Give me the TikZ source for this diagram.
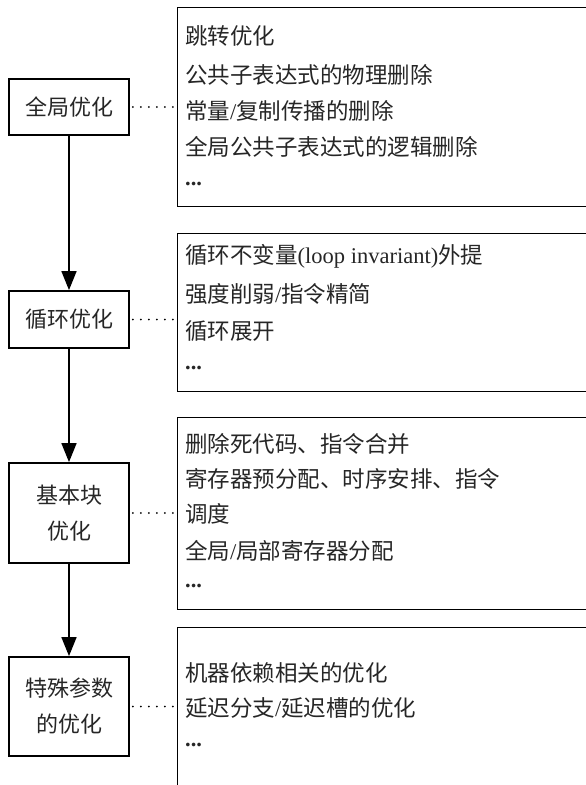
\documentclass[tikz,border=0pt]{standalone}
\usepackage{fontspec}
\setmainfont{Noto Sans CJK SC}
\newfontfamily\lat{Liberation Serif}
\usetikzlibrary{arrows.meta}
\begin{document}
\begin{tikzpicture}[x=1pt,y=-1pt,
  lbox/.style={draw, line width=1.8pt, minimum width=120pt, inner sep=0pt, align=center, font=\fontsize{22}{36}\selectfont, text=black!85},
  rbox/.style={draw, line width=1.4pt, anchor=north west, inner sep=0pt, minimum width=413pt},
  item/.style={anchor=base west, inner sep=0pt, font=\fontsize{22.5}{26}\selectfont, text=black!85},
  dotline/.style={line width=2pt, dash pattern=on 0pt off 8pt, line cap=round, shorten <=3pt, shorten >=3pt},
  arr/.style={line width=1.6pt, -{Triangle[width=15pt,length=19pt]}}
]
\useasboundingbox (0,0) rectangle (586,785);
\clip (0,0) rectangle (586,785);

% left boxes
\node[lbox, minimum height=56pt] (l1) at (69,107) {全局优化};
\node[lbox, minimum height=57pt] (l2) at (69,319.5) {循环优化};
\node[lbox, minimum height=100pt] (l3) at (69,513) {基本块\\优化};
\node[lbox, minimum height=99pt] (l4) at (69,706.5) {特殊参数\\的优化};

% right boxes
\node[rbox, minimum height=199pt] (r1) at (177,7) {};
\node[rbox, minimum height=158pt] (r2) at (177,233) {};
\node[rbox, minimum height=192pt] (r3) at (177,417) {};
\node[rbox, minimum height=165pt] (r4) at (177,627) {};

% arrows
\draw[arr] (l1.south) -- (l2.north);
\draw[arr] (l2.south) -- (l3.north);
\draw[arr] (l3.south) -- (l4.north);

% dotted connectors
\draw[dotline] (l1.east) -- (r1.west |- l1.east);
\draw[dotline] (l2.east) -- (r2.west |- l2.east);
\draw[dotline] (l3.east) -- (r3.west |- l3.east);
\draw[dotline] (l4.east) -- (r4.west |- l4.east);

% box 1 text
\node[item] (a1) at (185,44.5) {跳转优化};
\node[item] (a2) at (185,83) {公共子表达式的物理删除};
\node[item] (a3) at (185,119) {常量{\lat /}复制传播的删除};
\node[item] (a4) at (185,155) {全局公共子表达式的逻辑删除};
\node[item] (a5) at (185,185) {\lat\bfseries ...};

% box 2 text
\node[item] (b1) at (185,263) {循环不变量{\lat (loop invariant)}外提};
\node[item] (b2) at (185,302) {强度削弱{\lat /}指令精简};
\node[item] (b3) at (185,339) {循环展开};
\node[item] (b4) at (185,369) {\lat\bfseries ...};

% box 3 text
\node[item] (c1) at (185,452) {删除死代码、指令合并};
\node[item] (c2) at (185,487) {寄存器预分配、时序安排、指令};
\node[item] (c3) at (185,522) {调度};
\node[item] (c4) at (185,559) {全局{\lat /}局部寄存器分配};
\node[item] (c5) at (185,587) {\lat\bfseries ...};

% box 4 text
\node[item] (d1) at (185,681) {机器依赖相关的优化};
\node[item] (d2) at (185,716) {延迟分支{\lat /}延迟槽的优化};
\node[item] (d3) at (185,746) {\lat\bfseries ...};
\end{tikzpicture}
\end{document}
